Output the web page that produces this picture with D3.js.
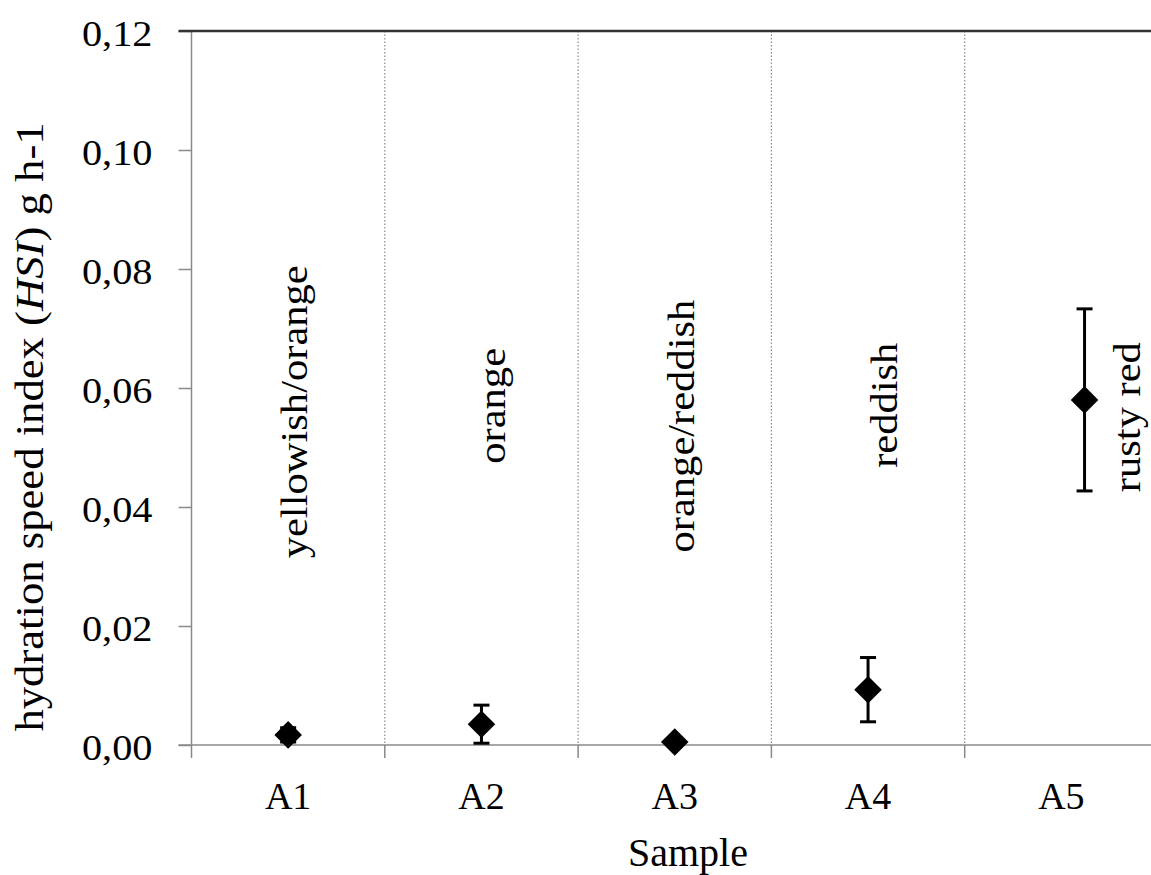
<!DOCTYPE html>
<html>
<head>
<meta charset="utf-8">
<script src="https://cdn.jsdelivr.net/npm/d3@7"></script>
<style>
  html, body { margin: 0; padding: 0; background: #fff; }
  svg { display: block; }
</style>
</head>
<body>
<svg id="chart"></svg>
<script>
// data
const samples = ['A1', 'A2', 'A3', 'A4', 'A5'];
const hsi = [0.0017, 0.0035, 0.0005, 0.0093, 0.058];
const hsiErr = [0.0012, 0.0032, 0, 0.0054, 0.0153];
const colourNames = ['yellowish/orange', 'orange', 'orange/reddish', 'reddish', 'rusty red'];
const colourNameAt = [0.056, 0.057, 0.0536, 0.0571, 0.0551];
const yTicks = [0, 0.02, 0.04, 0.06, 0.08, 0.10, 0.12];

const xLabel = 'Sample';

// where things sit inside each band (fraction of band width)
const noteShift = [0.095, 0.12, 0.1, 0.15, 0.405];
const dotShift = [0, 0, 0, 0, 0.12];

const width = 1151;
const height = 875;
const serif = "'Liberation Serif', 'Times New Roman', serif";

const svg = d3.select('#chart')
  .attr('width', width)
  .attr('height', height)
  .style('font-family', serif);

const xScale = d3.scaleBand()
  .domain(samples)
  .range([191.5, 1158])
  .padding(0);

const yScale = d3.scaleLinear()
  .domain([0, 0.12])
  .range([745, 31]);

const fmt = d => d3.format('.2f')(d).replace('.', ',');
const bw = xScale.bandwidth();
const left = xScale.range()[0];
const right = xScale.range()[1];

// dotted separators between samples
svg.append('g')
  .selectAll('line')
  .data(samples.slice(1))
  .join('line')
    .attr('x1', d => xScale(d))
    .attr('x2', d => xScale(d))
    .attr('y1', yScale(0.12))
    .attr('y2', yScale(0))
    .attr('stroke', '#8a8a8a')
    .attr('stroke-width', 1.2)
    .attr('stroke-dasharray', '1.5,2');

// y axis
const yAxis = d3.axisLeft(yScale)
  .tickValues(yTicks)
  .tickSize(13)
  .tickSizeOuter(0)
  .tickPadding(26)
  .tickFormat(fmt);

const yAxisG = svg.append('g')
  .attr('transform', `translate(${left},0)`)
  .call(yAxis)
  .attr('font-family', serif);
yAxisG.select('.domain').remove();
yAxisG.selectAll('.tick line').attr('stroke', '#8a8a8a').attr('stroke-width', 1.5);
yAxisG.selectAll('.tick text')
  .style('font-family', serif)
  .style('font-size', '36px')
  .attr('fill', '#000')
  .attr('x', null)
  .attr('dy', null)
  .attr('dominant-baseline', 'central')
  .attr('transform', 'translate(-39,2) scale(1.12,1)');

svg.append('line')
  .attr('x1', left).attr('x2', left)
  .attr('y1', yScale(0.12)).attr('y2', yScale(0))
  .attr('stroke', '#8a8a8a')
  .attr('stroke-width', 1.5);

// x axis
const xAxis = d3.axisBottom(xScale)
  .tickSize(0)
  .tickSizeOuter(0)
  .tickPadding(37);

const xAxisG = svg.append('g')
  .attr('transform', `translate(0,${yScale(0)})`)
  .call(xAxis)
  .attr('font-family', serif);
xAxisG.select('.domain').remove();
xAxisG.selectAll('.tick text')
  .style('font-family', serif)
  .style('font-size', '38px')
  .attr('fill', '#000');

svg.append('line')
  .attr('x1', left - 13).attr('x2', right)
  .attr('y1', yScale(0)).attr('y2', yScale(0))
  .attr('stroke', '#8a8a8a')
  .attr('stroke-width', 1.5);

svg.append('g')
  .selectAll('line')
  .data(samples.map(d => xScale(d)).concat([right]))
  .join('line')
    .attr('x1', d => d).attr('x2', d => d)
    .attr('y1', yScale(0)).attr('y2', yScale(0) + 13)
    .attr('stroke', '#8a8a8a')
    .attr('stroke-width', 1.5);

// top border
svg.append('line')
  .attr('x1', left - 13).attr('x2', right)
  .attr('y1', yScale(0.12)).attr('y2', yScale(0.12))
  .attr('stroke', '#333')
  .attr('stroke-width', 2.5);

// axis titles
svg.append('text')
  .attr('x', 688)
  .attr('y', 866)
  .attr('text-anchor', 'middle')
  .style('font-family', serif)
  .style('font-size', '40px')
  .text(xLabel);

const yTitle = svg.append('text')
  .attr('transform', 'translate(43,427) rotate(-90) scale(1.09,1)')
  .attr('text-anchor', 'middle')
  .style('font-family', serif)
  .style('font-size', '41px');
yTitle.append('tspan').text('hydration speed index (');
yTitle.append('tspan').style('font-style', 'italic').text('HSI');
yTitle.append('tspan').text(') g h-1');

// colour notes
const rows = samples.map((s, i) => ({
  sample: s, v: hsi[i], err: hsiErr[i], note: colourNames[i], noteAt: colourNameAt[i], i
}));

svg.append('g')
  .selectAll('text')
  .data(rows)
  .join('text')
    .attr('transform', d => `translate(${xScale(d.sample) + bw / 2 + noteShift[d.i] * bw},${yScale(d.noteAt)}) rotate(-90) scale(1.15,1)`)
    .attr('text-anchor', 'middle')
    .style('font-family', serif)
    .style('font-size', '37px')
    .text(d => d.note);

// error bars
const errG = svg.append('g')
  .selectAll('g')
  .data(rows.filter(d => d.err > 0))
  .join('g')
    .attr('transform', d => `translate(${xScale(d.sample) + bw / 2 + dotShift[d.i] * bw},0)`);

errG.append('line')
  .attr('y1', d => yScale(d.v - d.err))
  .attr('y2', d => yScale(d.v + d.err))
  .attr('stroke', '#000')
  .attr('stroke-width', 3);

errG.selectAll('.cap')
  .data(d => [d.v - d.err, d.v + d.err])
  .join('line')
    .attr('class', 'cap')
    .attr('x1', -8).attr('x2', 8)
    .attr('y1', d => yScale(d)).attr('y2', d => yScale(d))
    .attr('stroke', '#000')
    .attr('stroke-width', 3);

// diamonds
const diamond = d3.symbol().type(d3.symbolSquare).size(380);
svg.append('g')
  .selectAll('path')
  .data(rows)
  .join('path')
    .attr('d', diamond)
    .attr('transform', d => `translate(${xScale(d.sample) + bw / 2 + dotShift[d.i] * bw},${yScale(d.v)}) rotate(45)`)
    .attr('fill', '#000');
</script>
</body>
</html>
